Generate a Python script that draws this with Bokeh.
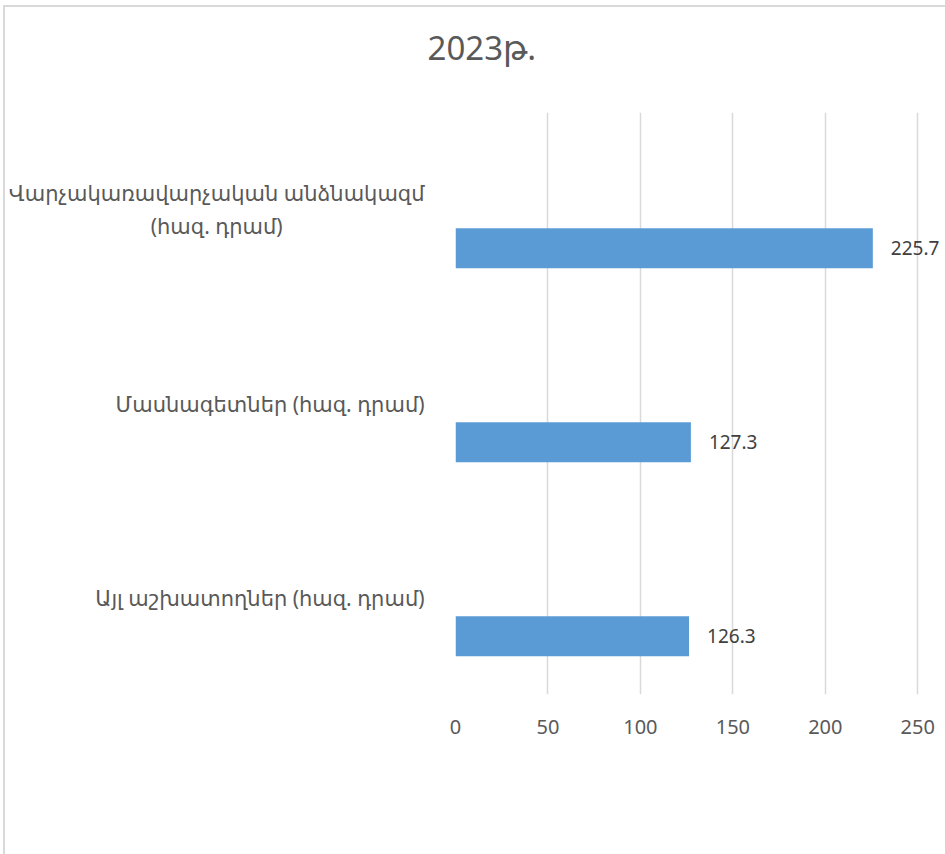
from bokeh.plotting import figure
from bokeh.layouts import column
from bokeh.models import FactorRange, Range1d, ColumnDataSource, FixedTicker, Title
from bokeh.transform import dodge
from bokeh.core.properties import value
from bokeh.embed import file_html
from bokeh.resources import INLINE

title_text = "2023թ."
categories = [
    "Վարչակառավարչական անձնակազմ\n(հազ. դրամ)",
    "Մասնագետներ (հազ. դրամ)",
    "Այլ աշխատողներ (հազ. դրամ)",
]
values = [225.7, 127.3, 126.3]
labels = ["225.7", "127.3", "126.3"]
x_ticks = [0, 50, 100, 150, 200, 250]

FONT = "Noto Sans, DejaVu Sans"
TXT = "#595959"


def centred(label):
    # right-aligned axis labels: pad the short second line so it sits centred
    if "\n" not in label:
        return label
    first, second = label.split("\n")
    return first + "\n" + second + "\u00a0" * 26 + "\u200b"


factors = [centred(c) for c in categories]
src = ColumnDataSource(dict(cat=factors, val=values, lab=labels))

# title strip (its frame is aligned with the chart's frame by the column)
pt = figure(width=940, height=105, x_range=Range1d(0, 1), y_range=Range1d(0, 1),
            output_backend="svg", toolbar_location=None,
            min_border_left=448, min_border_right=0, min_border_top=0, min_border_bottom=0)
pt.axis.visible = False
pt.grid.grid_line_color = None
pt.outline_line_color = None
pt.title = Title(text=title_text, align="left", offset=-28, standoff=30,
                 text_font=FONT, text_font_size="33px", text_font_style="normal",
                 text_color=TXT)

p = figure(
    width=940, height=742,
    y_range=FactorRange(factors=list(reversed(factors)), range_padding=0),
    x_range=Range1d(0, 265),
    output_backend="svg", toolbar_location=None,
    min_border_left=448, min_border_right=0, min_border_top=0, min_border_bottom=160,
)
p.outline_line_color = None
p.background_fill_color = "white"
p.border_fill_color = "white"

p.hbar(y=dodge("cat", -0.2, range=p.y_range), right="val", left=0, height=0.206,
       source=src, fill_color="#5B9BD5", line_color=None)
p.text(x="val", y=dodge("cat", -0.2, range=p.y_range), text="lab", source=src,
       x_offset=18, text_baseline="middle", text_align="left",
       text_font=value(FONT), text_font_size="19px", text_color="#404040")

p.xaxis.ticker = FixedTicker(ticks=x_ticks)
p.xaxis.axis_line_color = None
p.xaxis.major_tick_line_color = None
p.xaxis.minor_tick_line_color = None
p.xaxis.major_label_standoff = 19
p.xaxis.major_label_text_font = FONT
p.xaxis.major_label_text_font_size = "20px"
p.xaxis.major_label_text_color = TXT

p.yaxis.axis_line_color = None
p.yaxis.major_tick_line_color = None
p.yaxis.major_label_standoff = 25
p.yaxis.major_label_text_font = FONT
p.yaxis.major_label_text_font_size = "21px"
p.yaxis.major_label_text_color = TXT

p.ygrid.grid_line_color = None
p.xgrid.grid_line_color = "#d9d9d9"
p.xgrid.grid_line_width = 1.5

layout = column(pt, p, spacing=0,
                styles={"margin-left": "3px", "margin-top": "5px",
                        "border-left": "2px solid #d9d9d9", "border-top": "2px solid #d9d9d9"})

open("out.html", "w").write(file_html(layout, INLINE))
